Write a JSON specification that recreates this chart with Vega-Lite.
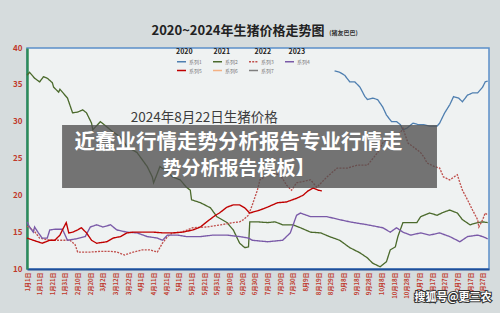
{
  "$schema": "https://vega.github.io/schema/vega-lite/v6.json",
  "width": 462,
  "height": 221,
  "autosize": {"type": "none"},
  "padding": {"left": 27, "top": 48, "right": 11, "bottom": 44},
  "background": "#d6dcdd",
  "title": {
    "text": "2020~2024年生猪价格走势图",
    "anchor": "middle",
    "dx": -20,
    "dy": 17,
    "offset": 9,
    "fontSize": 13,
    "fontWeight": "bold",
    "color": "#222222",
    "font": "Noto Sans CJK SC"
  },
  "config": {
    "font": "Noto Sans CJK SC",
    "view": {"stroke": "#5b8fc9", "strokeWidth": 1.5, "fill": "#eff2f2"},
    "axis": {"labelOverlap": false}
  },
  "datasets": {
    "prices": [
      {"series": "系列1", "day": 243, "price": 36.9}, {"series": "系列1", "day": 247, "price": 36.7}, {"series": "系列1", "day": 251, "price": 36.3}, {"series": "系列1", "day": 255, "price": 35.4}, {"series": "系列1", "day": 259, "price": 35.4}, {"series": "系列1", "day": 263, "price": 34.7}, {"series": "系列1", "day": 267, "price": 33.4}, {"series": "系列1", "day": 269, "price": 33.0}, {"series": "系列1", "day": 273, "price": 33.2}, {"series": "系列1", "day": 277, "price": 33.0}, {"series": "系列1", "day": 281, "price": 32.0}, {"series": "系列1", "day": 284, "price": 30.9}, {"series": "系列1", "day": 288, "price": 30.0}, {"series": "系列1", "day": 292, "price": 30.0}, {"series": "系列1", "day": 295, "price": 29.6}, {"series": "系列1", "day": 297, "price": 28.9}, {"series": "系列1", "day": 300, "price": 29.1}, {"series": "系列1", "day": 305, "price": 29.8}, {"series": "系列1", "day": 309, "price": 29.6}, {"series": "系列1", "day": 313, "price": 29.6}, {"series": "系列1", "day": 318, "price": 29.4}, {"series": "系列1", "day": 324, "price": 29.4}, {"series": "系列1", "day": 326, "price": 29.8}, {"series": "系列1", "day": 330, "price": 31.2}, {"series": "系列1", "day": 334, "price": 32.3}, {"series": "系列1", "day": 337, "price": 33.4}, {"series": "系列1", "day": 341, "price": 33.2}, {"series": "系列1", "day": 344, "price": 32.7}, {"series": "系列1", "day": 348, "price": 33.6}, {"series": "系列1", "day": 352, "price": 33.9}, {"series": "系列1", "day": 356, "price": 33.9}, {"series": "系列1", "day": 360, "price": 34.7}, {"series": "系列1", "day": 362, "price": 35.4}, {"series": "系列1", "day": 364, "price": 35.5},
      {"series": "系列2", "day": 0, "price": 36.3}, {"series": "系列2", "day": 2, "price": 36.7}, {"series": "系列2", "day": 6, "price": 35.9}, {"series": "系列2", "day": 10, "price": 35.4}, {"series": "系列2", "day": 13, "price": 36.1}, {"series": "系列2", "day": 16, "price": 35.9}, {"series": "系列2", "day": 20, "price": 35.3}, {"series": "系列2", "day": 21, "price": 34.7}, {"series": "系列2", "day": 25, "price": 34.0}, {"series": "系列2", "day": 26, "price": 34.4}, {"series": "系列2", "day": 32, "price": 33.2}, {"series": "系列2", "day": 36, "price": 31.2}, {"series": "系列2", "day": 40, "price": 31.3}, {"series": "系列2", "day": 44, "price": 31.6}, {"series": "系列2", "day": 47, "price": 31.2}, {"series": "系列2", "day": 51, "price": 29.8}, {"series": "系列2", "day": 52, "price": 28.9}, {"series": "系列2", "day": 58, "price": 30.0}, {"series": "系列2", "day": 63, "price": 29.3}, {"series": "系列2", "day": 68, "price": 28.6}, {"series": "系列2", "day": 74, "price": 27.9}, {"series": "系列2", "day": 79, "price": 26.6}, {"series": "系列2", "day": 87, "price": 25.8}, {"series": "系列2", "day": 95, "price": 23.9}, {"series": "系列2", "day": 99, "price": 22.5}, {"series": "系列2", "day": 100, "price": 21.7}, {"series": "系列2", "day": 103, "price": 23.0}, {"series": "系列2", "day": 105, "price": 23.9}, {"series": "系列2", "day": 111, "price": 23.2}, {"series": "系列2", "day": 115, "price": 22.5}, {"series": "系列2", "day": 121, "price": 22.1}, {"series": "系列2", "day": 126, "price": 21.1}, {"series": "系列2", "day": 129, "price": 20.7}, {"series": "系列2", "day": 130, "price": 19.4}, {"series": "系列2", "day": 137, "price": 19.0}, {"series": "系列2", "day": 145, "price": 18.3}, {"series": "系列2", "day": 150, "price": 17.1}, {"series": "系列2", "day": 158, "price": 16.3}, {"series": "系列2", "day": 163, "price": 15.3}, {"series": "系列2", "day": 168, "price": 13.5}, {"series": "系列2", "day": 172, "price": 12.9}, {"series": "系列2", "day": 175, "price": 13.0}, {"series": "系列2", "day": 176, "price": 16.4}, {"series": "系列2", "day": 182, "price": 16.4}, {"series": "系列2", "day": 190, "price": 16.3}, {"series": "系列2", "day": 196, "price": 16.4}, {"series": "系列2", "day": 202, "price": 16.0}, {"series": "系列2", "day": 210, "price": 16.0}, {"series": "系列2", "day": 216, "price": 15.6}, {"series": "系列2", "day": 224, "price": 15.0}, {"series": "系列2", "day": 232, "price": 14.9}, {"series": "系列2", "day": 239, "price": 14.4}, {"series": "系列2", "day": 247, "price": 13.9}, {"series": "系列2", "day": 255, "price": 12.9}, {"series": "系列2", "day": 263, "price": 12.2}, {"series": "系列2", "day": 269, "price": 11.5}, {"series": "系列2", "day": 273, "price": 10.8}, {"series": "系列2", "day": 279, "price": 10.3}, {"series": "系列2", "day": 284, "price": 11.0}, {"series": "系列2", "day": 287, "price": 12.6}, {"series": "系列2", "day": 291, "price": 13.0}, {"series": "系列2", "day": 293, "price": 14.4}, {"series": "系列2", "day": 297, "price": 16.3}, {"series": "系列2", "day": 303, "price": 16.3}, {"series": "系列2", "day": 308, "price": 16.3}, {"series": "系列2", "day": 311, "price": 17.1}, {"series": "系列2", "day": 318, "price": 17.6}, {"series": "系列2", "day": 324, "price": 17.3}, {"series": "系列2", "day": 329, "price": 17.7}, {"series": "系列2", "day": 334, "price": 18.0}, {"series": "系列2", "day": 340, "price": 17.6}, {"series": "系列2", "day": 344, "price": 16.7}, {"series": "系列2", "day": 350, "price": 16.0}, {"series": "系列2", "day": 356, "price": 16.3}, {"series": "系列2", "day": 360, "price": 16.4}, {"series": "系列2", "day": 364, "price": 16.3},
      {"series": "系列3", "day": 0, "price": 15.8}, {"series": "系列3", "day": 5, "price": 15.3}, {"series": "系列3", "day": 10, "price": 14.2}, {"series": "系列3", "day": 18, "price": 13.9}, {"series": "系列3", "day": 26, "price": 13.9}, {"series": "系列3", "day": 34, "price": 13.9}, {"series": "系列3", "day": 38, "price": 13.3}, {"series": "系列3", "day": 40, "price": 12.3}, {"series": "系列3", "day": 50, "price": 12.3}, {"series": "系列3", "day": 58, "price": 12.4}, {"series": "系列3", "day": 66, "price": 12.4}, {"series": "系列3", "day": 71, "price": 12.3}, {"series": "系列3", "day": 77, "price": 11.9}, {"series": "系列3", "day": 84, "price": 12.3}, {"series": "系列3", "day": 91, "price": 12.6}, {"series": "系列3", "day": 97, "price": 12.6}, {"series": "系列3", "day": 103, "price": 12.3}, {"series": "系列3", "day": 105, "price": 12.9}, {"series": "系列3", "day": 107, "price": 13.5}, {"series": "系列3", "day": 111, "price": 14.4}, {"series": "系列3", "day": 115, "price": 14.9}, {"series": "系列3", "day": 122, "price": 15.0}, {"series": "系列3", "day": 131, "price": 15.6}, {"series": "系列3", "day": 142, "price": 15.7}, {"series": "系列3", "day": 153, "price": 16.0}, {"series": "系列3", "day": 163, "price": 16.3}, {"series": "系列3", "day": 168, "price": 16.4}, {"series": "系列3", "day": 171, "price": 16.7}, {"series": "系列3", "day": 175, "price": 17.3}, {"series": "系列3", "day": 178, "price": 18.7}, {"series": "系列3", "day": 182, "price": 20.7}, {"series": "系列3", "day": 184, "price": 22.1}, {"series": "系列3", "day": 192, "price": 23.0}, {"series": "系列3", "day": 200, "price": 22.8}, {"series": "系列3", "day": 205, "price": 21.4}, {"series": "系列3", "day": 209, "price": 20.7}, {"series": "系列3", "day": 213, "price": 21.7}, {"series": "系列3", "day": 224, "price": 22.1}, {"series": "系列3", "day": 229, "price": 21.1}, {"series": "系列3", "day": 237, "price": 22.5}, {"series": "系列3", "day": 245, "price": 23.7}, {"series": "系列3", "day": 253, "price": 23.7}, {"series": "系列3", "day": 261, "price": 24.1}, {"series": "系列3", "day": 269, "price": 24.1}, {"series": "系列3", "day": 277, "price": 25.8}, {"series": "系列3", "day": 281, "price": 27.1}, {"series": "系列3", "day": 287, "price": 27.8}, {"series": "系列3", "day": 295, "price": 28.5}, {"series": "系列3", "day": 297, "price": 29.1}, {"series": "系列3", "day": 301, "price": 27.1}, {"series": "系列3", "day": 305, "price": 26.6}, {"series": "系列3", "day": 311, "price": 25.8}, {"series": "系列3", "day": 314, "price": 25.1}, {"series": "系列3", "day": 316, "price": 24.4}, {"series": "系列3", "day": 322, "price": 23.9}, {"series": "系列3", "day": 326, "price": 23.7}, {"series": "系列3", "day": 329, "price": 22.5}, {"series": "系列3", "day": 334, "price": 22.1}, {"series": "系列3", "day": 340, "price": 22.8}, {"series": "系列3", "day": 342, "price": 21.7}, {"series": "系列3", "day": 344, "price": 20.7}, {"series": "系列3", "day": 348, "price": 19.4}, {"series": "系列3", "day": 350, "price": 18.7}, {"series": "系列3", "day": 352, "price": 18.0}, {"series": "系列3", "day": 356, "price": 16.7}, {"series": "系列3", "day": 357, "price": 15.7}, {"series": "系列3", "day": 360, "price": 16.7}, {"series": "系列3", "day": 362, "price": 17.6}, {"series": "系列3", "day": 364, "price": 17.3},
      {"series": "系列4", "day": 0, "price": 16.4}, {"series": "系列4", "day": 2, "price": 15.7}, {"series": "系列4", "day": 5, "price": 15.0}, {"series": "系列4", "day": 6, "price": 15.7}, {"series": "系列4", "day": 9, "price": 14.9}, {"series": "系列4", "day": 12, "price": 14.2}, {"series": "系列4", "day": 16, "price": 14.2}, {"series": "系列4", "day": 18, "price": 15.3}, {"series": "系列4", "day": 22, "price": 15.4}, {"series": "系列4", "day": 28, "price": 15.4}, {"series": "系列4", "day": 32, "price": 13.9}, {"series": "系列4", "day": 39, "price": 14.1}, {"series": "系列4", "day": 46, "price": 14.4}, {"series": "系列4", "day": 50, "price": 15.7}, {"series": "系列4", "day": 55, "price": 16.0}, {"series": "系列4", "day": 60, "price": 15.7}, {"series": "系列4", "day": 66, "price": 16.0}, {"series": "系列4", "day": 71, "price": 15.3}, {"series": "系列4", "day": 79, "price": 15.0}, {"series": "系列4", "day": 87, "price": 14.9}, {"series": "系列4", "day": 95, "price": 14.4}, {"series": "系列4", "day": 103, "price": 14.2}, {"series": "系列4", "day": 107, "price": 13.9}, {"series": "系列4", "day": 111, "price": 14.6}, {"series": "系列4", "day": 119, "price": 14.6}, {"series": "系列4", "day": 126, "price": 14.4}, {"series": "系列4", "day": 137, "price": 14.4}, {"series": "系列4", "day": 147, "price": 14.6}, {"series": "系列4", "day": 158, "price": 14.6}, {"series": "系列4", "day": 168, "price": 14.4}, {"series": "系列4", "day": 175, "price": 14.2}, {"series": "系列4", "day": 178, "price": 13.9}, {"series": "系列4", "day": 190, "price": 13.7}, {"series": "系列4", "day": 202, "price": 13.9}, {"series": "系列4", "day": 208, "price": 14.9}, {"series": "系列4", "day": 213, "price": 17.3}, {"series": "系列4", "day": 216, "price": 17.6}, {"series": "系列4", "day": 224, "price": 17.1}, {"series": "系列4", "day": 237, "price": 17.1}, {"series": "系列4", "day": 247, "price": 16.7}, {"series": "系列4", "day": 255, "price": 16.4}, {"series": "系列4", "day": 269, "price": 16.0}, {"series": "系列4", "day": 281, "price": 15.6}, {"series": "系列4", "day": 287, "price": 15.0}, {"series": "系列4", "day": 292, "price": 15.6}, {"series": "系列4", "day": 297, "price": 15.0}, {"series": "系列4", "day": 303, "price": 14.6}, {"series": "系列4", "day": 311, "price": 14.9}, {"series": "系列4", "day": 318, "price": 14.6}, {"series": "系列4", "day": 326, "price": 14.9}, {"series": "系列4", "day": 334, "price": 14.4}, {"series": "系列4", "day": 342, "price": 13.7}, {"series": "系列4", "day": 348, "price": 14.4}, {"series": "系列4", "day": 356, "price": 14.6}, {"series": "系列4", "day": 360, "price": 14.4}, {"series": "系列4", "day": 364, "price": 14.1},
      {"series": "系列5", "day": 0, "price": 14.2}, {"series": "系列5", "day": 5, "price": 13.9}, {"series": "系列5", "day": 12, "price": 13.5}, {"series": "系列5", "day": 18, "price": 13.9}, {"series": "系列5", "day": 22, "price": 13.9}, {"series": "系列5", "day": 26, "price": 14.6}, {"series": "系列5", "day": 28, "price": 15.3}, {"series": "系列5", "day": 31, "price": 16.3}, {"series": "系列5", "day": 33, "price": 14.9}, {"series": "系列5", "day": 36, "price": 15.0}, {"series": "系列5", "day": 40, "price": 15.3}, {"series": "系列5", "day": 43, "price": 15.6}, {"series": "系列5", "day": 47, "price": 14.9}, {"series": "系列5", "day": 51, "price": 13.9}, {"series": "系列5", "day": 55, "price": 13.5}, {"series": "系列5", "day": 63, "price": 13.7}, {"series": "系列5", "day": 68, "price": 14.2}, {"series": "系列5", "day": 74, "price": 14.4}, {"series": "系列5", "day": 79, "price": 14.9}, {"series": "系列5", "day": 84, "price": 15.0}, {"series": "系列5", "day": 92, "price": 15.0}, {"series": "系列5", "day": 100, "price": 15.0}, {"series": "系列5", "day": 108, "price": 14.9}, {"series": "系列5", "day": 115, "price": 14.9}, {"series": "系列5", "day": 123, "price": 15.0}, {"series": "系列5", "day": 131, "price": 15.3}, {"series": "系列5", "day": 137, "price": 15.7}, {"series": "系列5", "day": 142, "price": 16.4}, {"series": "系列5", "day": 149, "price": 17.3}, {"series": "系列5", "day": 152, "price": 17.6}, {"series": "系列5", "day": 158, "price": 18.4}, {"series": "系列5", "day": 163, "price": 18.7}, {"series": "系列5", "day": 168, "price": 18.7}, {"series": "系列5", "day": 172, "price": 18.3}, {"series": "系列5", "day": 176, "price": 17.6}, {"series": "系列5", "day": 184, "price": 18.0}, {"series": "系列5", "day": 190, "price": 18.4}, {"series": "系列5", "day": 198, "price": 19.0}, {"series": "系列5", "day": 205, "price": 19.1}, {"series": "系列5", "day": 213, "price": 19.6}, {"series": "系列5", "day": 218, "price": 20.0}, {"series": "系列5", "day": 222, "price": 20.6}, {"series": "系列5", "day": 226, "price": 21.0}, {"series": "系列5", "day": 230, "price": 20.7}, {"series": "系列5", "day": 233, "price": 20.6}
    ]
  },
  "layer": [
    {
      "data": {"name": "prices"},
      "mark": {"type": "line", "interpolate": "linear"},
      "encoding": {
        "x": {
          "field": "day", "type": "quantitative",
          "scale": {"domain": [0, 365], "nice": false, "zero": false},
          "axis": {
            "title": null,
            "values": [0, 10, 20, 30, 40, 50, 60, 70, 80, 90, 100, 110, 120, 130, 140, 150, 160, 170, 180, 190, 200, 210, 220, 230, 240, 250, 260, 270, 280, 290, 300, 310, 320, 330, 340, 350, 360],
            "tickCount": 40,
            "labelExpr": "(month(datetime(2021, 0, 1 + datum.value)) + 1) + '月' + date(datetime(2021, 0, 1 + datum.value)) + '日'",
            "labelAngle": -90,
            "labelFontSize": 6,
            "labelFontWeight": "bold",
            "labelColor": "#c0392b",
            "labelPadding": 3,
            "labelOverlap": false,
            "labelFlush": false,
            "labelBound": false,
            "ticks": false,
            "grid": false,
            "domainColor": "#1f4e99",
            "domainWidth": 2
          }
        },
        "y": {
          "field": "price", "type": "quantitative",
          "scale": {"domain": [10, 40], "nice": false, "zero": false},
          "axis": {
            "title": null,
            "values": [10, 15, 20, 25, 30, 35, 40],
            "tickCount": 10,
            "labelFontSize": 8,
            "labelFontWeight": "bold",
            "labelColor": "#c0392b",
            "labelPadding": 5,
            "ticks": false,
            "grid": false,
            "domainColor": "#2e8b57",
            "domainWidth": 2.5
          }
        },
        "color": {
          "field": "series", "type": "nominal",
          "scale": {
            "domain": ["系列1", "系列2", "系列3", "系列4", "系列5", "系列6", "系列7"],
            "range": ["#4f7fb0", "#4b6a2c", "#c0504d", "#7a5aa8", "#c00000", "#f4b183", "#7f7f7f"]
          },
          "legend": {
            "orient": "none", "legendX": 149, "legendY": 0, "columns": 4, "direction": "horizontal",
            "title": "2020\u2003\u2003\u20032021\u2003\u2003\u2003\u20022022\u2003\u2003\u20022023",
            "titleFontSize": 7, "titleFontWeight": "bold", "titleColor": "#222222", "titlePadding": 1,
            "labelFontSize": 5, "labelColor": "#777777", "labelOffset": 2,
            "symbolType": "stroke", "symbolSize": 81, "columnPadding": 8, "rowPadding": 0, "padding": 0
          }
        },
        "strokeDash": {
          "field": "series", "type": "nominal",
          "scale": {
            "domain": ["系列1", "系列2", "系列3", "系列4", "系列5", "系列6", "系列7"],
            "range": [[1, 0], [1, 0], [2, 1.2], [1, 0], [1, 0], [1, 0], [1, 0]]
          },
          "legend": {
            "orient": "none", "legendX": 149, "legendY": 0, "columns": 4, "direction": "horizontal",
            "title": "2020\u2003\u2003\u20032021\u2003\u2003\u2003\u20022022\u2003\u2003\u20022023",
            "titleFontSize": 7, "titleFontWeight": "bold", "titleColor": "#222222", "titlePadding": 1,
            "labelFontSize": 5, "labelColor": "#777777", "labelOffset": 2,
            "symbolType": "stroke", "symbolSize": 81, "columnPadding": 8, "rowPadding": 0, "padding": 0
          }
        },
        "strokeWidth": {
          "field": "series", "type": "nominal",
          "scale": {
            "domain": ["系列1", "系列2", "系列3", "系列4", "系列5", "系列6", "系列7"],
            "range": [1.3, 1.4, 1.2, 1.3, 2.2, 1.3, 1.3]
          },
          "legend": {
            "orient": "none", "legendX": 149, "legendY": 0, "columns": 4, "direction": "horizontal",
            "title": "2020\u2003\u2003\u20032021\u2003\u2003\u2003\u20022022\u2003\u2003\u20022023",
            "titleFontSize": 7, "titleFontWeight": "bold", "titleColor": "#222222", "titlePadding": 1,
            "labelFontSize": 5, "labelColor": "#777777", "labelOffset": 2,
            "symbolType": "stroke", "symbolSize": 81, "columnPadding": 8, "rowPadding": 0, "padding": 0
          }
        }
      }
    },
    {
      "data": {"values": [{}]},
      "mark": {"type": "text", "fontSize": 6, "fontWeight": "bold", "color": "#333333", "baseline": "middle"},
      "encoding": {"x": {"datum": 250}, "y": {"datum": 42.0}, "text": {"value": "(猪友巴巴)"}}
    },
    {
      "data": {"values": [{}]},
      "mark": {"type": "text", "fontSize": 13.5, "color": "#3c3c3c", "baseline": "middle"},
      "encoding": {"x": {"datum": 140}, "y": {"datum": 30.5}, "text": {"value": "2024年8月22日生猪价格"}}
    },
    {
      "data": {"values": [{}]},
      "mark": {"type": "rect", "color": "#505050", "opacity": 0.78},
      "encoding": {"x": {"datum": 27.7}, "x2": {"datum": 323.9}, "y": {"datum": 29.55}, "y2": {"datum": 21.0}}
    },
    {
      "data": {"values": [{}]},
      "mark": {"type": "text", "fontSize": 20.5, "fontWeight": "bold", "color": "#ffffff", "baseline": "middle"},
      "encoding": {"x": {"datum": 167}, "y": {"datum": 27.1}, "text": {"value": "近蠢业行情走势分析报告专业行情走"}}
    },
    {
      "data": {"values": [{}]},
      "mark": {"type": "text", "fontSize": 19, "fontWeight": "bold", "color": "#ffffff", "baseline": "middle"},
      "encoding": {"x": {"datum": 167}, "y": {"datum": 23.55}, "text": {"value": "势分析报告模板】"}}
    },
    {
      "data": {"values": [{}]},
      "mark": {"type": "text", "fontSize": 11, "fontWeight": "bold", "fill": "#ffffff", "stroke": "#333333", "strokeWidth": 2, "baseline": "middle"},
      "encoding": {"x": {"datum": 336.6}, "y": {"datum": 6.1}, "text": {"value": "搜狐号@更三农"}}
    },
    {
      "data": {"values": [{}]},
      "mark": {"type": "text", "fontSize": 11, "fontWeight": "bold", "fill": "#ffffff", "baseline": "middle"},
      "encoding": {"x": {"datum": 336.6}, "y": {"datum": 6.1}, "text": {"value": "搜狐号@更三农"}}
    }
  ]
}
